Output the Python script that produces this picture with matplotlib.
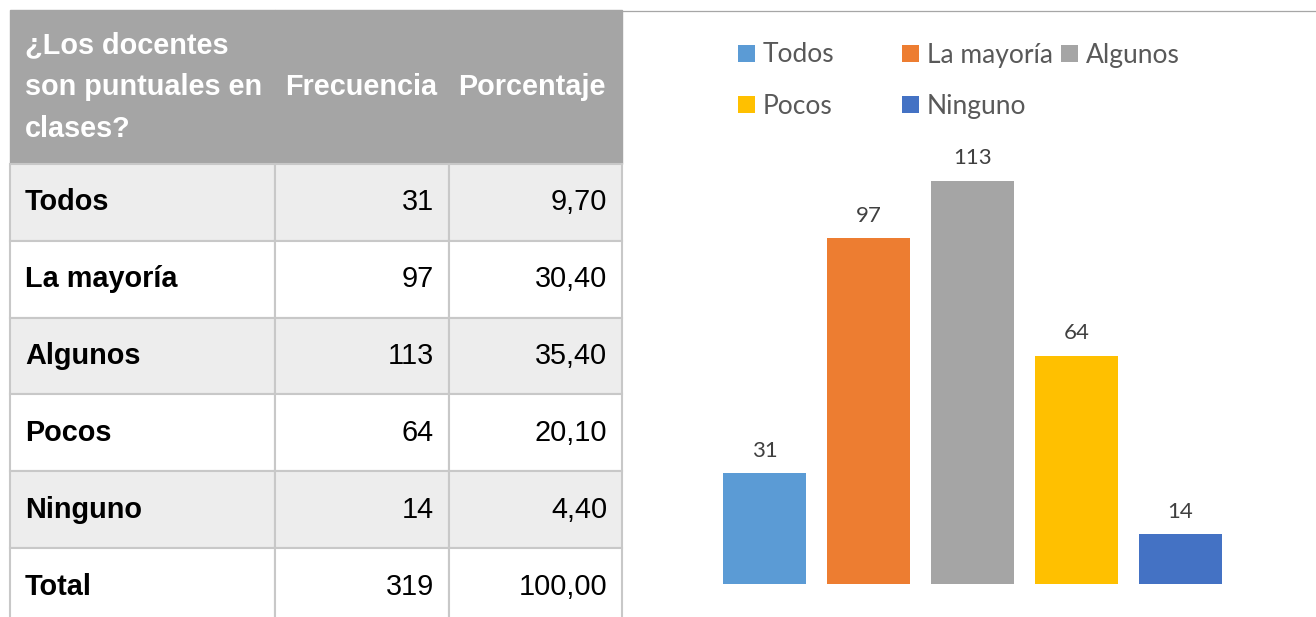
import matplotlib
matplotlib.use("Agg")
import matplotlib.pyplot as plt
from matplotlib.patches import Patch
from matplotlib.lines import Line2D

categories = ["Todos", "La mayoría", "Algunos", "Pocos", "Ninguno"]
frecuencia = [31, 97, 113, 64, 14]
porcentaje = [9.70, 30.40, 35.40, 20.10, 4.40]
total_frec = 319
total_pct = 100.00
header = ["¿Los docentes\nson puntuales en\nclases?", "Frecuencia", "Porcentaje"]
colors = ["#5b9bd5", "#ed7d31", "#a5a5a5", "#ffc000", "#4472c4"]

W, H = 1316, 617
fig = plt.figure(figsize=(W / 100, H / 100), dpi=100)


def fmt(v):
    return f"{v:.2f}".replace(".", ",")


# ---- table on the left ----
rows = [[c, str(f), fmt(p)] for c, f, p in zip(categories, frecuencia, porcentaje)]
rows.append(["Total", str(total_frec), fmt(total_pct)])

ax_t = fig.add_axes([0, 0, 1, 1])
ax_t.axis("off")
col_w = [265, 174, 173]
tbl = ax_t.table(cellText=[header] + rows, colWidths=col_w,
                 bbox=[10 / W, -8 / H, 612 / W, 615 / H])
tbl.auto_set_font_size(False)
tbl.set_fontsize(20.8)

for (r, c), cell in tbl.get_celld().items():
    txt = cell.get_text()
    txt.set_fontfamily("Liberation Sans")
    if r == 0:
        cell.set_height(2)
        cell.set_facecolor("#a5a5a5")
        cell.set_edgecolor("#a5a5a5")
        txt.set_color("white")
        txt.set_fontweight("bold")
        txt.set_linespacing(1.64)
        cell._loc = "left"
        cell.PAD = [15, 10, 9][c] / col_w[c]
    else:
        cell.set_height(1)
        cell.set_facecolor("#ededed" if r % 2 == 1 else "white")
        cell.set_edgecolor("#c8c8c8")
        cell.set_linewidth(1.5)
        if c == 0:
            cell._loc = "left"
            txt.set_fontweight("bold")
        else:
            cell._loc = "right"
        cell.PAD = 15 / col_w[c]
    txt.set_ha(cell._loc)

# ---- bar chart on the right ----
fig.add_artist(Line2D([622 / W, 1], [1 - 10.5 / H] * 2, transform=fig.transFigure,
                      color="#a6a6a6", lw=0.9))

ax = fig.add_axes([712.5 / W, 33 / H, 520 / W, 428 / H])
x = list(range(len(categories)))
bars = ax.bar(x, frecuencia, width=0.8, color=colors)
ax.bar_label(bars, labels=[str(v) for v in frecuencia], padding=9,
             fontsize=16, color="#404040", family="Lato")
ax.set_xlim(-0.5, len(categories) - 0.5)
ax.set_ylim(0, 120)
ax.axis("off")

# legend, laid out like Excel's (equal-width columns, two rows)
leg_pos = [(738, 55), (902, 55), (1061, 55), (738, 106.5), (902, 106.5)]
for cat, col, (lx, ly) in zip(categories, colors, leg_pos):
    fig.legend(handles=[Patch(facecolor=col, label=cat)], loc="center left",
               bbox_to_anchor=(lx / W, 1 - ly / H), frameon=False,
               borderpad=0, borderaxespad=0, handlelength=0.64, handleheight=0.64,
               handletextpad=0.3, prop={"family": "Lato", "size": 19},
               labelcolor="#595959")

fig.savefig("out.png", dpi=100)
